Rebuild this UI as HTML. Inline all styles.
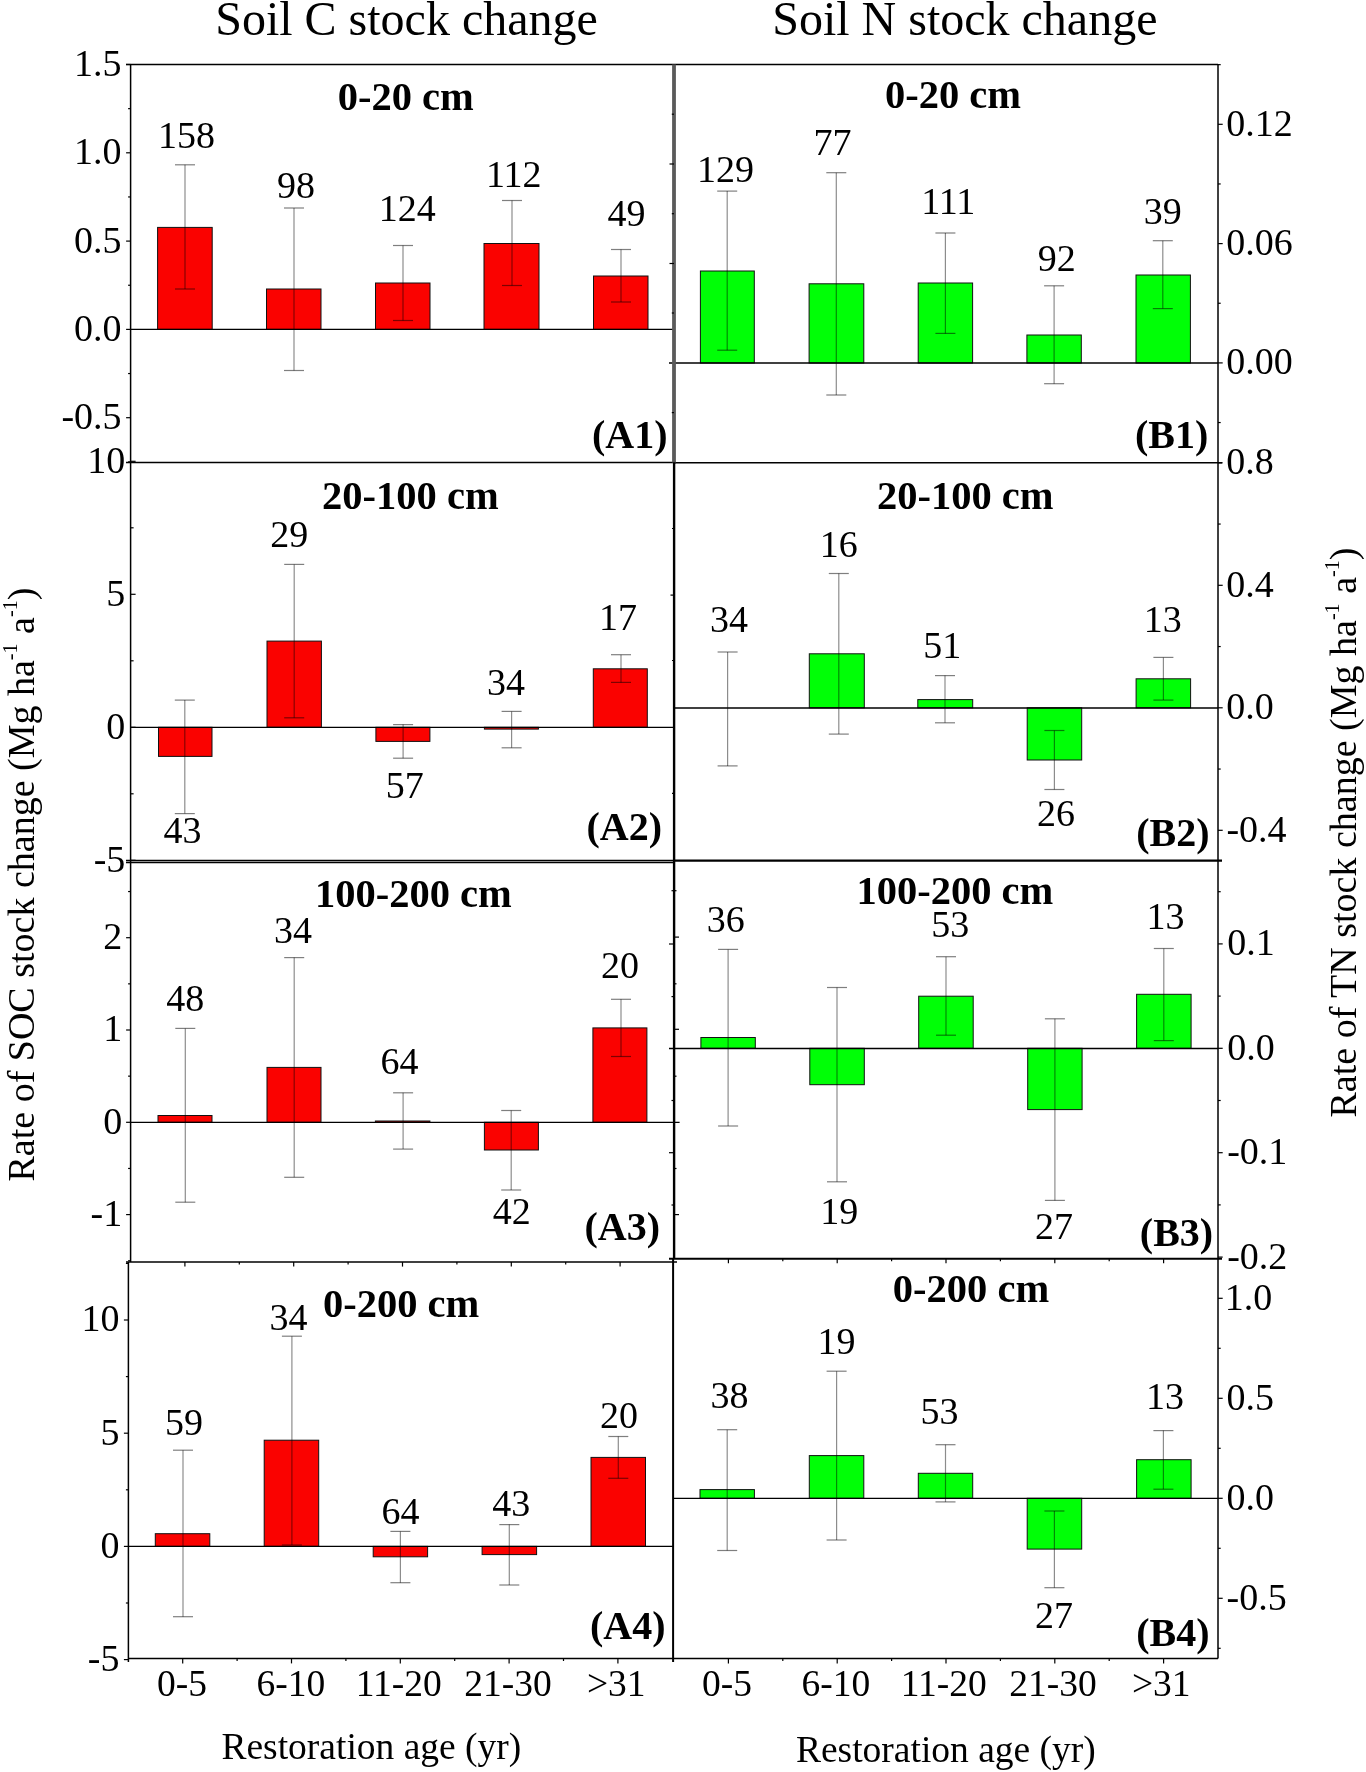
<!DOCTYPE html>
<html><head><meta charset="utf-8"><style>
html,body{margin:0;padding:0;background:#fff;}
svg{display:block;will-change:transform;}
text{font-family:"Liberation Serif",serif;fill:#000;}
</style></head><body>
<svg width="1366" height="1772" viewBox="0 0 1366 1772">
<rect x="0" y="0" width="1366" height="1772" fill="#fff"/>
<rect x="157.6" y="227.4" width="54.6" height="102.0" fill="#fa0200" stroke="#111" stroke-width="1"/>
<rect x="266.5" y="289.0" width="54.5" height="40.4" fill="#fa0200" stroke="#111" stroke-width="1"/>
<rect x="375.5" y="283.0" width="54.5" height="46.4" fill="#fa0200" stroke="#111" stroke-width="1"/>
<rect x="484.0" y="243.5" width="55.0" height="85.9" fill="#fa0200" stroke="#111" stroke-width="1"/>
<rect x="593.5" y="276.0" width="54.5" height="53.4" fill="#fa0200" stroke="#111" stroke-width="1"/>
<line x1="185" y1="164.8" x2="185" y2="289" stroke="#000" stroke-width="1.2" stroke-opacity="0.45"/>
<line x1="175" y1="164.8" x2="195" y2="164.8" stroke="#000" stroke-width="1.2" stroke-opacity="0.5"/>
<line x1="175" y1="289" x2="195" y2="289" stroke="#000" stroke-width="1.2" stroke-opacity="0.5"/>
<line x1="294" y1="208" x2="294" y2="370.5" stroke="#000" stroke-width="1.2" stroke-opacity="0.45"/>
<line x1="284" y1="208" x2="304" y2="208" stroke="#000" stroke-width="1.2" stroke-opacity="0.5"/>
<line x1="284" y1="370.5" x2="304" y2="370.5" stroke="#000" stroke-width="1.2" stroke-opacity="0.5"/>
<line x1="403" y1="245.5" x2="403" y2="320.5" stroke="#000" stroke-width="1.2" stroke-opacity="0.45"/>
<line x1="393" y1="245.5" x2="413" y2="245.5" stroke="#000" stroke-width="1.2" stroke-opacity="0.5"/>
<line x1="393" y1="320.5" x2="413" y2="320.5" stroke="#000" stroke-width="1.2" stroke-opacity="0.5"/>
<line x1="512" y1="200.5" x2="512" y2="285.5" stroke="#000" stroke-width="1.2" stroke-opacity="0.45"/>
<line x1="502" y1="200.5" x2="522" y2="200.5" stroke="#000" stroke-width="1.2" stroke-opacity="0.5"/>
<line x1="502" y1="285.5" x2="522" y2="285.5" stroke="#000" stroke-width="1.2" stroke-opacity="0.5"/>
<line x1="621" y1="249.5" x2="621" y2="302" stroke="#000" stroke-width="1.2" stroke-opacity="0.45"/>
<line x1="611" y1="249.5" x2="631" y2="249.5" stroke="#000" stroke-width="1.2" stroke-opacity="0.5"/>
<line x1="611" y1="302" x2="631" y2="302" stroke="#000" stroke-width="1.2" stroke-opacity="0.5"/>
<text x="158.05" y="147.80" font-size="38" font-weight="normal">158</text>
<text x="277.11" y="197.50" font-size="38" font-weight="normal">98</text>
<text x="378.63" y="220.50" font-size="38" font-weight="normal">124</text>
<text x="485.88" y="186.50" font-size="38" font-weight="normal">112</text>
<text x="607.41" y="226.00" font-size="38" font-weight="normal">49</text>
<rect x="158.5" y="727.3" width="53.5" height="29.1" fill="#fa0200" stroke="#111" stroke-width="1"/>
<rect x="267.0" y="641.1" width="54.4" height="86.2" fill="#fa0200" stroke="#111" stroke-width="1"/>
<rect x="375.9" y="727.3" width="54.0" height="14.1" fill="#fa0200" stroke="#111" stroke-width="1"/>
<rect x="484.4" y="727.3" width="54.0" height="1.8" fill="#fa0200" stroke="#111" stroke-width="1"/>
<rect x="593.3" y="668.8" width="54.0" height="58.5" fill="#fa0200" stroke="#111" stroke-width="1"/>
<line x1="184.8" y1="700.1" x2="184.8" y2="813.6" stroke="#000" stroke-width="1.2" stroke-opacity="0.45"/>
<line x1="174.8" y1="700.1" x2="194.8" y2="700.1" stroke="#000" stroke-width="1.2" stroke-opacity="0.5"/>
<line x1="174.8" y1="813.6" x2="194.8" y2="813.6" stroke="#000" stroke-width="1.2" stroke-opacity="0.5"/>
<line x1="294.2" y1="564.4" x2="294.2" y2="717.8" stroke="#000" stroke-width="1.2" stroke-opacity="0.45"/>
<line x1="284.2" y1="564.4" x2="304.2" y2="564.4" stroke="#000" stroke-width="1.2" stroke-opacity="0.5"/>
<line x1="284.2" y1="717.8" x2="304.2" y2="717.8" stroke="#000" stroke-width="1.2" stroke-opacity="0.5"/>
<line x1="403.1" y1="724.6" x2="403.1" y2="758.2" stroke="#000" stroke-width="1.2" stroke-opacity="0.45"/>
<line x1="393.1" y1="724.6" x2="413.1" y2="724.6" stroke="#000" stroke-width="1.2" stroke-opacity="0.5"/>
<line x1="393.1" y1="758.2" x2="413.1" y2="758.2" stroke="#000" stroke-width="1.2" stroke-opacity="0.5"/>
<line x1="511.6" y1="711.4" x2="511.6" y2="747.8" stroke="#000" stroke-width="1.2" stroke-opacity="0.45"/>
<line x1="501.6" y1="711.4" x2="521.6" y2="711.4" stroke="#000" stroke-width="1.2" stroke-opacity="0.5"/>
<line x1="501.6" y1="747.8" x2="521.6" y2="747.8" stroke="#000" stroke-width="1.2" stroke-opacity="0.5"/>
<line x1="621" y1="654.7" x2="621" y2="682.4" stroke="#000" stroke-width="1.2" stroke-opacity="0.45"/>
<line x1="611" y1="654.7" x2="631" y2="654.7" stroke="#000" stroke-width="1.2" stroke-opacity="0.5"/>
<line x1="611" y1="682.4" x2="631" y2="682.4" stroke="#000" stroke-width="1.2" stroke-opacity="0.5"/>
<text x="270.14" y="547.10" font-size="38" font-weight="normal">29</text>
<text x="598.88" y="629.70" font-size="38" font-weight="normal">17</text>
<text x="486.89" y="694.60" font-size="38" font-weight="normal">34</text>
<text x="385.84" y="797.70" font-size="38" font-weight="normal">57</text>
<text x="163.47" y="843.10" font-size="38" font-weight="normal">43</text>
<rect x="158.0" y="1115.5" width="54.0" height="6.8" fill="#fa0200" stroke="#111" stroke-width="1"/>
<rect x="267.0" y="1067.4" width="54.0" height="54.9" fill="#fa0200" stroke="#111" stroke-width="1"/>
<rect x="375.4" y="1121.0" width="54.5" height="1.3" fill="#fa0200" stroke="#111" stroke-width="1"/>
<rect x="484.4" y="1122.3" width="54.0" height="27.7" fill="#fa0200" stroke="#111" stroke-width="1"/>
<rect x="592.9" y="1027.9" width="54.0" height="94.4" fill="#fa0200" stroke="#111" stroke-width="1"/>
<line x1="185.3" y1="1028.4" x2="185.3" y2="1202.2" stroke="#000" stroke-width="1.2" stroke-opacity="0.45"/>
<line x1="175.3" y1="1028.4" x2="195.3" y2="1028.4" stroke="#000" stroke-width="1.2" stroke-opacity="0.5"/>
<line x1="175.3" y1="1202.2" x2="195.3" y2="1202.2" stroke="#000" stroke-width="1.2" stroke-opacity="0.5"/>
<line x1="294.2" y1="957.6" x2="294.2" y2="1177.3" stroke="#000" stroke-width="1.2" stroke-opacity="0.45"/>
<line x1="284.2" y1="957.6" x2="304.2" y2="957.6" stroke="#000" stroke-width="1.2" stroke-opacity="0.5"/>
<line x1="284.2" y1="1177.3" x2="304.2" y2="1177.3" stroke="#000" stroke-width="1.2" stroke-opacity="0.5"/>
<line x1="403.1" y1="1092.8" x2="403.1" y2="1149.1" stroke="#000" stroke-width="1.2" stroke-opacity="0.45"/>
<line x1="393.1" y1="1092.8" x2="413.1" y2="1092.8" stroke="#000" stroke-width="1.2" stroke-opacity="0.5"/>
<line x1="393.1" y1="1149.1" x2="413.1" y2="1149.1" stroke="#000" stroke-width="1.2" stroke-opacity="0.5"/>
<line x1="511.2" y1="1110.5" x2="511.2" y2="1190" stroke="#000" stroke-width="1.2" stroke-opacity="0.45"/>
<line x1="501.2" y1="1110.5" x2="521.2" y2="1110.5" stroke="#000" stroke-width="1.2" stroke-opacity="0.5"/>
<line x1="501.2" y1="1190" x2="521.2" y2="1190" stroke="#000" stroke-width="1.2" stroke-opacity="0.5"/>
<line x1="621" y1="999.3" x2="621" y2="1056.5" stroke="#000" stroke-width="1.2" stroke-opacity="0.45"/>
<line x1="611" y1="999.3" x2="631" y2="999.3" stroke="#000" stroke-width="1.2" stroke-opacity="0.5"/>
<line x1="611" y1="1056.5" x2="631" y2="1056.5" stroke="#000" stroke-width="1.2" stroke-opacity="0.5"/>
<text x="166.25" y="1011.10" font-size="38" font-weight="normal">48</text>
<text x="273.89" y="943.00" font-size="38" font-weight="normal">34</text>
<text x="380.48" y="1074.20" font-size="38" font-weight="normal">64</text>
<text x="492.68" y="1223.50" font-size="38" font-weight="normal">42</text>
<text x="600.99" y="978.40" font-size="38" font-weight="normal">20</text>
<rect x="155.3" y="1533.7" width="54.5" height="12.7" fill="#fa0200" stroke="#111" stroke-width="1"/>
<rect x="264.2" y="1440.2" width="54.5" height="106.2" fill="#fa0200" stroke="#111" stroke-width="1"/>
<rect x="373.2" y="1546.4" width="54.4" height="10.4" fill="#fa0200" stroke="#111" stroke-width="1"/>
<rect x="482.1" y="1546.4" width="54.5" height="8.2" fill="#fa0200" stroke="#111" stroke-width="1"/>
<rect x="591.0" y="1457.4" width="54.5" height="89.0" fill="#fa0200" stroke="#111" stroke-width="1"/>
<line x1="183" y1="1450.2" x2="183" y2="1616.7" stroke="#000" stroke-width="1.2" stroke-opacity="0.45"/>
<line x1="173" y1="1450.2" x2="193" y2="1450.2" stroke="#000" stroke-width="1.2" stroke-opacity="0.5"/>
<line x1="173" y1="1616.7" x2="193" y2="1616.7" stroke="#000" stroke-width="1.2" stroke-opacity="0.5"/>
<line x1="291.9" y1="1336.2" x2="291.9" y2="1545" stroke="#000" stroke-width="1.2" stroke-opacity="0.45"/>
<line x1="281.9" y1="1336.2" x2="301.9" y2="1336.2" stroke="#000" stroke-width="1.2" stroke-opacity="0.5"/>
<line x1="281.9" y1="1545" x2="301.9" y2="1545" stroke="#000" stroke-width="1.2" stroke-opacity="0.5"/>
<line x1="400.4" y1="1531.4" x2="400.4" y2="1582.7" stroke="#000" stroke-width="1.2" stroke-opacity="0.45"/>
<line x1="390.4" y1="1531.4" x2="410.4" y2="1531.4" stroke="#000" stroke-width="1.2" stroke-opacity="0.5"/>
<line x1="390.4" y1="1582.7" x2="410.4" y2="1582.7" stroke="#000" stroke-width="1.2" stroke-opacity="0.5"/>
<line x1="509.3" y1="1524.6" x2="509.3" y2="1585" stroke="#000" stroke-width="1.2" stroke-opacity="0.45"/>
<line x1="499.3" y1="1524.6" x2="519.3" y2="1524.6" stroke="#000" stroke-width="1.2" stroke-opacity="0.5"/>
<line x1="499.3" y1="1585" x2="519.3" y2="1585" stroke="#000" stroke-width="1.2" stroke-opacity="0.5"/>
<line x1="618.3" y1="1436.5" x2="618.3" y2="1478.3" stroke="#000" stroke-width="1.2" stroke-opacity="0.45"/>
<line x1="608.3" y1="1436.5" x2="628.3" y2="1436.5" stroke="#000" stroke-width="1.2" stroke-opacity="0.5"/>
<line x1="608.3" y1="1478.3" x2="628.3" y2="1478.3" stroke="#000" stroke-width="1.2" stroke-opacity="0.5"/>
<text x="165.08" y="1435.20" font-size="38" font-weight="normal">59</text>
<text x="269.59" y="1329.90" font-size="38" font-weight="normal">34</text>
<text x="381.38" y="1523.70" font-size="38" font-weight="normal">64</text>
<text x="492.37" y="1516.40" font-size="38" font-weight="normal">43</text>
<text x="600.09" y="1428.40" font-size="38" font-weight="normal">20</text>
<rect x="700.4" y="271.0" width="53.9" height="92.0" fill="#00ff06" stroke="#111" stroke-width="1"/>
<rect x="809.1" y="283.8" width="54.7" height="79.2" fill="#00ff06" stroke="#111" stroke-width="1"/>
<rect x="918.2" y="283.0" width="54.4" height="80.0" fill="#00ff06" stroke="#111" stroke-width="1"/>
<rect x="1026.9" y="335.0" width="54.4" height="28.0" fill="#00ff06" stroke="#111" stroke-width="1"/>
<rect x="1136.0" y="275.0" width="54.4" height="88.0" fill="#00ff06" stroke="#111" stroke-width="1"/>
<line x1="727.2" y1="191.1" x2="727.2" y2="350.2" stroke="#000" stroke-width="1.2" stroke-opacity="0.45"/>
<line x1="717.2" y1="191.1" x2="737.2" y2="191.1" stroke="#000" stroke-width="1.2" stroke-opacity="0.5"/>
<line x1="717.2" y1="350.2" x2="737.2" y2="350.2" stroke="#000" stroke-width="1.2" stroke-opacity="0.5"/>
<line x1="836.3" y1="172.7" x2="836.3" y2="395" stroke="#000" stroke-width="1.2" stroke-opacity="0.45"/>
<line x1="826.3" y1="172.7" x2="846.3" y2="172.7" stroke="#000" stroke-width="1.2" stroke-opacity="0.5"/>
<line x1="826.3" y1="395" x2="846.3" y2="395" stroke="#000" stroke-width="1.2" stroke-opacity="0.5"/>
<line x1="945.4" y1="233" x2="945.4" y2="333.4" stroke="#000" stroke-width="1.2" stroke-opacity="0.45"/>
<line x1="935.4" y1="233" x2="955.4" y2="233" stroke="#000" stroke-width="1.2" stroke-opacity="0.5"/>
<line x1="935.4" y1="333.4" x2="955.4" y2="333.4" stroke="#000" stroke-width="1.2" stroke-opacity="0.5"/>
<line x1="1054.1" y1="285.8" x2="1054.1" y2="383.7" stroke="#000" stroke-width="1.2" stroke-opacity="0.45"/>
<line x1="1044.1" y1="285.8" x2="1064.1" y2="285.8" stroke="#000" stroke-width="1.2" stroke-opacity="0.5"/>
<line x1="1044.1" y1="383.7" x2="1064.1" y2="383.7" stroke="#000" stroke-width="1.2" stroke-opacity="0.5"/>
<line x1="1162.8" y1="240.7" x2="1162.8" y2="308.6" stroke="#000" stroke-width="1.2" stroke-opacity="0.45"/>
<line x1="1152.8" y1="240.7" x2="1172.8" y2="240.7" stroke="#000" stroke-width="1.2" stroke-opacity="0.5"/>
<line x1="1152.8" y1="308.6" x2="1172.8" y2="308.6" stroke="#000" stroke-width="1.2" stroke-opacity="0.5"/>
<text x="697.01" y="181.90" font-size="38" font-weight="normal">129</text>
<text x="813.59" y="154.80" font-size="38" font-weight="normal">77</text>
<text x="921.17" y="214.30" font-size="38" font-weight="normal">111</text>
<text x="1037.74" y="271.00" font-size="38" font-weight="normal">92</text>
<text x="1143.87" y="223.90" font-size="38" font-weight="normal">39</text>
<rect x="700.4" y="707.8" width="54.9" height="0.0" fill="#00ff06" stroke="#111" stroke-width="1"/>
<rect x="809.3" y="653.8" width="55.0" height="54.0" fill="#00ff06" stroke="#111" stroke-width="1"/>
<rect x="917.8" y="699.6" width="54.9" height="8.2" fill="#00ff06" stroke="#111" stroke-width="1"/>
<rect x="1027.2" y="707.8" width="54.5" height="52.2" fill="#00ff06" stroke="#111" stroke-width="1"/>
<rect x="1136.1" y="678.8" width="54.5" height="29.0" fill="#00ff06" stroke="#111" stroke-width="1"/>
<line x1="727.6" y1="652" x2="727.6" y2="765.9" stroke="#000" stroke-width="1.2" stroke-opacity="0.45"/>
<line x1="717.6" y1="652" x2="737.6" y2="652" stroke="#000" stroke-width="1.2" stroke-opacity="0.5"/>
<line x1="717.6" y1="765.9" x2="737.6" y2="765.9" stroke="#000" stroke-width="1.2" stroke-opacity="0.5"/>
<line x1="838.8" y1="573.5" x2="838.8" y2="734.1" stroke="#000" stroke-width="1.2" stroke-opacity="0.45"/>
<line x1="828.8" y1="573.5" x2="848.8" y2="573.5" stroke="#000" stroke-width="1.2" stroke-opacity="0.5"/>
<line x1="828.8" y1="734.1" x2="848.8" y2="734.1" stroke="#000" stroke-width="1.2" stroke-opacity="0.5"/>
<line x1="945" y1="675.6" x2="945" y2="722.8" stroke="#000" stroke-width="1.2" stroke-opacity="0.45"/>
<line x1="935" y1="675.6" x2="955" y2="675.6" stroke="#000" stroke-width="1.2" stroke-opacity="0.5"/>
<line x1="935" y1="722.8" x2="955" y2="722.8" stroke="#000" stroke-width="1.2" stroke-opacity="0.5"/>
<line x1="1054.4" y1="730.5" x2="1054.4" y2="789.5" stroke="#000" stroke-width="1.2" stroke-opacity="0.45"/>
<line x1="1044.4" y1="730.5" x2="1064.4" y2="730.5" stroke="#000" stroke-width="1.2" stroke-opacity="0.5"/>
<line x1="1044.4" y1="789.5" x2="1064.4" y2="789.5" stroke="#000" stroke-width="1.2" stroke-opacity="0.5"/>
<line x1="1163.4" y1="657.4" x2="1163.4" y2="700.1" stroke="#000" stroke-width="1.2" stroke-opacity="0.45"/>
<line x1="1153.4" y1="657.4" x2="1173.4" y2="657.4" stroke="#000" stroke-width="1.2" stroke-opacity="0.5"/>
<line x1="1153.4" y1="700.1" x2="1173.4" y2="700.1" stroke="#000" stroke-width="1.2" stroke-opacity="0.5"/>
<text x="710.09" y="632.00" font-size="38" font-weight="normal">34</text>
<text x="819.70" y="557.10" font-size="38" font-weight="normal">16</text>
<text x="923.34" y="657.90" font-size="38" font-weight="normal">51</text>
<text x="1036.93" y="826.30" font-size="38" font-weight="normal">26</text>
<text x="1143.87" y="632.00" font-size="38" font-weight="normal">13</text>
<rect x="700.9" y="1037.5" width="54.4" height="10.8" fill="#00ff06" stroke="#111" stroke-width="1"/>
<rect x="809.8" y="1048.3" width="54.5" height="36.4" fill="#00ff06" stroke="#111" stroke-width="1"/>
<rect x="918.7" y="996.2" width="54.5" height="52.1" fill="#00ff06" stroke="#111" stroke-width="1"/>
<rect x="1027.7" y="1048.3" width="54.4" height="61.3" fill="#00ff06" stroke="#111" stroke-width="1"/>
<rect x="1136.6" y="994.3" width="54.5" height="54.0" fill="#00ff06" stroke="#111" stroke-width="1"/>
<line x1="728.1" y1="949.4" x2="728.1" y2="1126" stroke="#000" stroke-width="1.2" stroke-opacity="0.45"/>
<line x1="718.1" y1="949.4" x2="738.1" y2="949.4" stroke="#000" stroke-width="1.2" stroke-opacity="0.5"/>
<line x1="718.1" y1="1126" x2="738.1" y2="1126" stroke="#000" stroke-width="1.2" stroke-opacity="0.5"/>
<line x1="837" y1="987.5" x2="837" y2="1181.8" stroke="#000" stroke-width="1.2" stroke-opacity="0.45"/>
<line x1="827" y1="987.5" x2="847" y2="987.5" stroke="#000" stroke-width="1.2" stroke-opacity="0.5"/>
<line x1="827" y1="1181.8" x2="847" y2="1181.8" stroke="#000" stroke-width="1.2" stroke-opacity="0.5"/>
<line x1="946" y1="956.7" x2="946" y2="1035.2" stroke="#000" stroke-width="1.2" stroke-opacity="0.45"/>
<line x1="936" y1="956.7" x2="956" y2="956.7" stroke="#000" stroke-width="1.2" stroke-opacity="0.5"/>
<line x1="936" y1="1035.2" x2="956" y2="1035.2" stroke="#000" stroke-width="1.2" stroke-opacity="0.5"/>
<line x1="1054.9" y1="1018.8" x2="1054.9" y2="1200.4" stroke="#000" stroke-width="1.2" stroke-opacity="0.45"/>
<line x1="1044.9" y1="1018.8" x2="1064.9" y2="1018.8" stroke="#000" stroke-width="1.2" stroke-opacity="0.5"/>
<line x1="1044.9" y1="1200.4" x2="1064.9" y2="1200.4" stroke="#000" stroke-width="1.2" stroke-opacity="0.5"/>
<line x1="1163.8" y1="948.5" x2="1163.8" y2="1040.6" stroke="#000" stroke-width="1.2" stroke-opacity="0.45"/>
<line x1="1153.8" y1="948.5" x2="1173.8" y2="948.5" stroke="#000" stroke-width="1.2" stroke-opacity="0.5"/>
<line x1="1153.8" y1="1040.6" x2="1173.8" y2="1040.6" stroke="#000" stroke-width="1.2" stroke-opacity="0.5"/>
<text x="706.76" y="931.70" font-size="38" font-weight="normal">36</text>
<text x="820.31" y="1223.50" font-size="38" font-weight="normal">19</text>
<text x="931.14" y="937.10" font-size="38" font-weight="normal">53</text>
<text x="1034.91" y="1239.00" font-size="38" font-weight="normal">27</text>
<text x="1146.57" y="928.50" font-size="38" font-weight="normal">13</text>
<rect x="700.0" y="1489.6" width="54.4" height="8.7" fill="#00ff06" stroke="#111" stroke-width="1"/>
<rect x="809.3" y="1455.6" width="54.5" height="42.7" fill="#00ff06" stroke="#111" stroke-width="1"/>
<rect x="918.3" y="1473.3" width="54.4" height="25.0" fill="#00ff06" stroke="#111" stroke-width="1"/>
<rect x="1027.2" y="1498.3" width="54.5" height="50.8" fill="#00ff06" stroke="#111" stroke-width="1"/>
<rect x="1136.6" y="1459.7" width="54.5" height="38.6" fill="#00ff06" stroke="#111" stroke-width="1"/>
<line x1="727.2" y1="1429.7" x2="727.2" y2="1550.5" stroke="#000" stroke-width="1.2" stroke-opacity="0.45"/>
<line x1="717.2" y1="1429.7" x2="737.2" y2="1429.7" stroke="#000" stroke-width="1.2" stroke-opacity="0.5"/>
<line x1="717.2" y1="1550.5" x2="737.2" y2="1550.5" stroke="#000" stroke-width="1.2" stroke-opacity="0.5"/>
<line x1="836.6" y1="1371.2" x2="836.6" y2="1540" stroke="#000" stroke-width="1.2" stroke-opacity="0.45"/>
<line x1="826.6" y1="1371.2" x2="846.6" y2="1371.2" stroke="#000" stroke-width="1.2" stroke-opacity="0.5"/>
<line x1="826.6" y1="1540" x2="846.6" y2="1540" stroke="#000" stroke-width="1.2" stroke-opacity="0.5"/>
<line x1="945.5" y1="1444.7" x2="945.5" y2="1501.9" stroke="#000" stroke-width="1.2" stroke-opacity="0.45"/>
<line x1="935.5" y1="1444.7" x2="955.5" y2="1444.7" stroke="#000" stroke-width="1.2" stroke-opacity="0.5"/>
<line x1="935.5" y1="1501.9" x2="955.5" y2="1501.9" stroke="#000" stroke-width="1.2" stroke-opacity="0.5"/>
<line x1="1054.4" y1="1511" x2="1054.4" y2="1587.7" stroke="#000" stroke-width="1.2" stroke-opacity="0.45"/>
<line x1="1044.4" y1="1511" x2="1064.4" y2="1511" stroke="#000" stroke-width="1.2" stroke-opacity="0.5"/>
<line x1="1044.4" y1="1587.7" x2="1064.4" y2="1587.7" stroke="#000" stroke-width="1.2" stroke-opacity="0.5"/>
<line x1="1163.4" y1="1430.6" x2="1163.4" y2="1489.2" stroke="#000" stroke-width="1.2" stroke-opacity="0.45"/>
<line x1="1153.4" y1="1430.6" x2="1173.4" y2="1430.6" stroke="#000" stroke-width="1.2" stroke-opacity="0.5"/>
<line x1="1153.4" y1="1489.2" x2="1173.4" y2="1489.2" stroke="#000" stroke-width="1.2" stroke-opacity="0.5"/>
<text x="710.51" y="1408.00" font-size="38" font-weight="normal">38</text>
<text x="817.61" y="1354.40" font-size="38" font-weight="normal">19</text>
<text x="920.44" y="1423.80" font-size="38" font-weight="normal">53</text>
<text x="1034.91" y="1628.10" font-size="38" font-weight="normal">27</text>
<text x="1146.07" y="1408.90" font-size="38" font-weight="normal">13</text>
<line x1="130.5" y1="329.4" x2="674" y2="329.4" stroke="#000" stroke-width="1.3"/>
<line x1="669" y1="363.0" x2="1218" y2="363.0" stroke="#000" stroke-width="1.3"/>
<line x1="130.5" y1="727.3" x2="674" y2="727.3" stroke="#000" stroke-width="1.3"/>
<line x1="674" y1="708.0" x2="1218" y2="708.0" stroke="#000" stroke-width="1.3"/>
<line x1="130.5" y1="1122.3" x2="679.6" y2="1122.3" stroke="#000" stroke-width="1.3"/>
<line x1="669" y1="1048.5" x2="1218" y2="1048.5" stroke="#000" stroke-width="1.3"/>
<line x1="128.2" y1="1546.4" x2="673" y2="1546.4" stroke="#000" stroke-width="1.3"/>
<line x1="674" y1="1498.3" x2="1218" y2="1498.3" stroke="#000" stroke-width="1.3"/>
<line x1="126" y1="64.4" x2="1218" y2="64.6" stroke="#000" stroke-width="1.5"/>
<line x1="126" y1="462.5" x2="676" y2="462.5" stroke="#000" stroke-width="1.5"/>
<line x1="674" y1="462.8" x2="1222" y2="462.8" stroke="#000" stroke-width="1.5"/>
<line x1="126" y1="860.4" x2="674" y2="860.4" stroke="#000" stroke-width="1.5"/>
<line x1="126" y1="862.4" x2="674" y2="862.4" stroke="#000" stroke-width="1.5"/>
<line x1="674" y1="860.6" x2="1222" y2="860.6" stroke="#000" stroke-width="2.2"/>
<line x1="126" y1="1262.1" x2="677" y2="1262.1" stroke="#000" stroke-width="1.5"/>
<line x1="669" y1="1258.7" x2="1222" y2="1258.7" stroke="#000" stroke-width="2.0"/>
<line x1="128.2" y1="1658.4" x2="1218" y2="1658.4" stroke="#000" stroke-width="1.5"/>
<line x1="130.6" y1="64.4" x2="130.6" y2="1262.1" stroke="#000" stroke-width="1.5"/>
<line x1="128.4" y1="1262.1" x2="128.4" y2="1662" stroke="#000" stroke-width="1.5"/>
<line x1="674" y1="64.4" x2="674" y2="462.5" stroke="#5a5a5a" stroke-width="3.8"/>
<line x1="674.1" y1="462.5" x2="674.1" y2="1258.7" stroke="#000" stroke-width="2.4"/>
<line x1="673.1" y1="1258.7" x2="673.1" y2="1662" stroke="#000" stroke-width="2.0"/>
<line x1="1218" y1="64.6" x2="1218" y2="1658.4" stroke="#000" stroke-width="1.5"/>
<line x1="126.1" y1="64.5" x2="130.6" y2="64.5" stroke="#000" stroke-width="1.2"/>
<line x1="126.1" y1="152.79999999999998" x2="130.6" y2="152.79999999999998" stroke="#000" stroke-width="1.2"/>
<line x1="126.1" y1="241.09999999999997" x2="130.6" y2="241.09999999999997" stroke="#000" stroke-width="1.2"/>
<line x1="126.1" y1="329.4" x2="130.6" y2="329.4" stroke="#000" stroke-width="1.2"/>
<line x1="126.1" y1="417.7" x2="130.6" y2="417.7" stroke="#000" stroke-width="1.2"/>
<line x1="128.1" y1="108.64999999999998" x2="130.6" y2="108.64999999999998" stroke="#000" stroke-width="1.2"/>
<line x1="128.1" y1="196.95" x2="130.6" y2="196.95" stroke="#000" stroke-width="1.2"/>
<line x1="128.1" y1="285.25" x2="130.6" y2="285.25" stroke="#000" stroke-width="1.2"/>
<line x1="128.1" y1="373.54999999999995" x2="130.6" y2="373.54999999999995" stroke="#000" stroke-width="1.2"/>
<line x1="128.1" y1="461.84999999999997" x2="130.6" y2="461.84999999999997" stroke="#000" stroke-width="1.2"/>
<line x1="130.6" y1="461.29999999999995" x2="135.6" y2="461.29999999999995" stroke="#000" stroke-width="1.2"/>
<line x1="130.6" y1="594.3" x2="135.6" y2="594.3" stroke="#000" stroke-width="1.2"/>
<line x1="130.6" y1="727.3" x2="135.6" y2="727.3" stroke="#000" stroke-width="1.2"/>
<line x1="130.6" y1="860.3" x2="135.6" y2="860.3" stroke="#000" stroke-width="1.2"/>
<line x1="130.6" y1="527.8" x2="133.6" y2="527.8" stroke="#000" stroke-width="1.2"/>
<line x1="130.6" y1="660.8" x2="133.6" y2="660.8" stroke="#000" stroke-width="1.2"/>
<line x1="130.6" y1="793.8" x2="133.6" y2="793.8" stroke="#000" stroke-width="1.2"/>
<line x1="126.1" y1="937.6999999999999" x2="130.6" y2="937.6999999999999" stroke="#000" stroke-width="1.2"/>
<line x1="126.1" y1="1030.0" x2="130.6" y2="1030.0" stroke="#000" stroke-width="1.2"/>
<line x1="126.1" y1="1122.3" x2="130.6" y2="1122.3" stroke="#000" stroke-width="1.2"/>
<line x1="126.1" y1="1214.6" x2="130.6" y2="1214.6" stroke="#000" stroke-width="1.2"/>
<line x1="128.1" y1="891.55" x2="130.6" y2="891.55" stroke="#000" stroke-width="1.2"/>
<line x1="128.1" y1="983.8499999999999" x2="130.6" y2="983.8499999999999" stroke="#000" stroke-width="1.2"/>
<line x1="128.1" y1="1076.1499999999999" x2="130.6" y2="1076.1499999999999" stroke="#000" stroke-width="1.2"/>
<line x1="128.1" y1="1168.45" x2="130.6" y2="1168.45" stroke="#000" stroke-width="1.2"/>
<line x1="128.1" y1="1260.75" x2="130.6" y2="1260.75" stroke="#000" stroke-width="1.2"/>
<line x1="123.9" y1="1320.0" x2="128.4" y2="1320.0" stroke="#000" stroke-width="1.2"/>
<line x1="123.9" y1="1433.2" x2="128.4" y2="1433.2" stroke="#000" stroke-width="1.2"/>
<line x1="123.9" y1="1546.4" x2="128.4" y2="1546.4" stroke="#000" stroke-width="1.2"/>
<line x1="123.9" y1="1659.6000000000001" x2="128.4" y2="1659.6000000000001" stroke="#000" stroke-width="1.2"/>
<line x1="125.9" y1="1263.4" x2="128.4" y2="1263.4" stroke="#000" stroke-width="1.2"/>
<line x1="125.9" y1="1376.6000000000001" x2="128.4" y2="1376.6000000000001" stroke="#000" stroke-width="1.2"/>
<line x1="125.9" y1="1489.8000000000002" x2="128.4" y2="1489.8000000000002" stroke="#000" stroke-width="1.2"/>
<line x1="125.9" y1="1603.0" x2="128.4" y2="1603.0" stroke="#000" stroke-width="1.2"/>
<line x1="1218" y1="124.304" x2="1222.7" y2="124.304" stroke="#000" stroke-width="1.2"/>
<line x1="1218" y1="243.60199999999998" x2="1222.7" y2="243.60199999999998" stroke="#000" stroke-width="1.2"/>
<line x1="1218" y1="362.9" x2="1222.7" y2="362.9" stroke="#000" stroke-width="1.2"/>
<line x1="1218" y1="64.65499999999997" x2="1220.7" y2="64.65499999999997" stroke="#000" stroke-width="1.2"/>
<line x1="1218" y1="183.95299999999997" x2="1220.7" y2="183.95299999999997" stroke="#000" stroke-width="1.2"/>
<line x1="1218" y1="303.251" x2="1220.7" y2="303.251" stroke="#000" stroke-width="1.2"/>
<line x1="1218" y1="422.549" x2="1220.7" y2="422.549" stroke="#000" stroke-width="1.2"/>
<line x1="1218" y1="462.79999999999995" x2="1222.7" y2="462.79999999999995" stroke="#000" stroke-width="1.2"/>
<line x1="1218" y1="585.3" x2="1222.7" y2="585.3" stroke="#000" stroke-width="1.2"/>
<line x1="1218" y1="707.8" x2="1222.7" y2="707.8" stroke="#000" stroke-width="1.2"/>
<line x1="1218" y1="830.3" x2="1222.7" y2="830.3" stroke="#000" stroke-width="1.2"/>
<line x1="1218" y1="524.05" x2="1220.7" y2="524.05" stroke="#000" stroke-width="1.2"/>
<line x1="1218" y1="646.55" x2="1220.7" y2="646.55" stroke="#000" stroke-width="1.2"/>
<line x1="1218" y1="769.05" x2="1220.7" y2="769.05" stroke="#000" stroke-width="1.2"/>
<line x1="1218" y1="943.9" x2="1222.7" y2="943.9" stroke="#000" stroke-width="1.2"/>
<line x1="1218" y1="1048.3" x2="1222.7" y2="1048.3" stroke="#000" stroke-width="1.2"/>
<line x1="1218" y1="1152.7" x2="1222.7" y2="1152.7" stroke="#000" stroke-width="1.2"/>
<line x1="1218" y1="1257.1" x2="1222.7" y2="1257.1" stroke="#000" stroke-width="1.2"/>
<line x1="1218" y1="891.6999999999999" x2="1220.7" y2="891.6999999999999" stroke="#000" stroke-width="1.2"/>
<line x1="1218" y1="996.0999999999999" x2="1220.7" y2="996.0999999999999" stroke="#000" stroke-width="1.2"/>
<line x1="1218" y1="1100.5" x2="1220.7" y2="1100.5" stroke="#000" stroke-width="1.2"/>
<line x1="1218" y1="1204.8999999999999" x2="1220.7" y2="1204.8999999999999" stroke="#000" stroke-width="1.2"/>
<line x1="1218" y1="1298.3" x2="1222.7" y2="1298.3" stroke="#000" stroke-width="1.2"/>
<line x1="1218" y1="1398.3" x2="1222.7" y2="1398.3" stroke="#000" stroke-width="1.2"/>
<line x1="1218" y1="1498.3" x2="1222.7" y2="1498.3" stroke="#000" stroke-width="1.2"/>
<line x1="1218" y1="1598.3" x2="1222.7" y2="1598.3" stroke="#000" stroke-width="1.2"/>
<line x1="1218" y1="1348.3" x2="1220.7" y2="1348.3" stroke="#000" stroke-width="1.2"/>
<line x1="1218" y1="1448.3" x2="1220.7" y2="1448.3" stroke="#000" stroke-width="1.2"/>
<line x1="1218" y1="1548.3" x2="1220.7" y2="1548.3" stroke="#000" stroke-width="1.2"/>
<line x1="1218" y1="1648.3" x2="1220.7" y2="1648.3" stroke="#000" stroke-width="1.2"/>
<line x1="669.5" y1="164" x2="674" y2="164" stroke="#000" stroke-width="1.2"/>
<line x1="669.5" y1="263.5" x2="674" y2="263.5" stroke="#000" stroke-width="1.2"/>
<line x1="671.8" y1="114.2" x2="674" y2="114.2" stroke="#000" stroke-width="1.2"/>
<line x1="671.8" y1="213.7" x2="674" y2="213.7" stroke="#000" stroke-width="1.2"/>
<line x1="671.8" y1="313" x2="674" y2="313" stroke="#000" stroke-width="1.2"/>
<line x1="671.8" y1="412.6" x2="674" y2="412.6" stroke="#000" stroke-width="1.2"/>
<line x1="670.5" y1="595.1" x2="674" y2="595.1" stroke="#000" stroke-width="1.2"/>
<line x1="672.0" y1="528.5" x2="674" y2="528.5" stroke="#000" stroke-width="1.2"/>
<line x1="672.0" y1="660.5" x2="674" y2="660.5" stroke="#000" stroke-width="1.2"/>
<line x1="672.0" y1="793.4" x2="674" y2="793.4" stroke="#000" stroke-width="1.2"/>
<line x1="674" y1="937.1" x2="679" y2="937.1" stroke="#000" stroke-width="1.2"/>
<line x1="674" y1="1029.3" x2="679" y2="1029.3" stroke="#000" stroke-width="1.2"/>
<line x1="674" y1="1214.6" x2="679" y2="1214.6" stroke="#000" stroke-width="1.2"/>
<line x1="674" y1="890.7" x2="676.5" y2="890.7" stroke="#000" stroke-width="1.2"/>
<line x1="674" y1="983.8" x2="676.5" y2="983.8" stroke="#000" stroke-width="1.2"/>
<line x1="674" y1="1076.2" x2="676.5" y2="1076.2" stroke="#000" stroke-width="1.2"/>
<line x1="674" y1="1168.5" x2="676.5" y2="1168.5" stroke="#000" stroke-width="1.2"/>
<line x1="669" y1="944" x2="674" y2="944" stroke="#000" stroke-width="1.2"/>
<line x1="669" y1="1152.7" x2="674" y2="1152.7" stroke="#000" stroke-width="1.2"/>
<line x1="671.5" y1="890.7" x2="674" y2="890.7" stroke="#000" stroke-width="1.2"/>
<line x1="671.5" y1="996.6" x2="674" y2="996.6" stroke="#000" stroke-width="1.2"/>
<line x1="671.5" y1="1100.5" x2="674" y2="1100.5" stroke="#000" stroke-width="1.2"/>
<line x1="671.5" y1="1205" x2="674" y2="1205" stroke="#000" stroke-width="1.2"/>
<line x1="184.9" y1="1262.1" x2="184.9" y2="1266.6" stroke="#000" stroke-width="1.2"/>
<line x1="293.7" y1="1262.1" x2="293.7" y2="1266.6" stroke="#000" stroke-width="1.2"/>
<line x1="402.5" y1="1262.1" x2="402.5" y2="1266.6" stroke="#000" stroke-width="1.2"/>
<line x1="511.3" y1="1262.1" x2="511.3" y2="1266.6" stroke="#000" stroke-width="1.2"/>
<line x1="620.0999999999999" y1="1262.1" x2="620.0999999999999" y2="1266.6" stroke="#000" stroke-width="1.2"/>
<line x1="239.3" y1="1262.1" x2="239.3" y2="1264.6" stroke="#000" stroke-width="1.2"/>
<line x1="348.1" y1="1262.1" x2="348.1" y2="1264.6" stroke="#000" stroke-width="1.2"/>
<line x1="456.9" y1="1262.1" x2="456.9" y2="1264.6" stroke="#000" stroke-width="1.2"/>
<line x1="565.7" y1="1262.1" x2="565.7" y2="1264.6" stroke="#000" stroke-width="1.2"/>
<line x1="728.4" y1="1258.7" x2="728.4" y2="1263.2" stroke="#000" stroke-width="1.2"/>
<line x1="837.2" y1="1258.7" x2="837.2" y2="1263.2" stroke="#000" stroke-width="1.2"/>
<line x1="946.0" y1="1258.7" x2="946.0" y2="1263.2" stroke="#000" stroke-width="1.2"/>
<line x1="1054.8" y1="1258.7" x2="1054.8" y2="1263.2" stroke="#000" stroke-width="1.2"/>
<line x1="1163.6" y1="1258.7" x2="1163.6" y2="1263.2" stroke="#000" stroke-width="1.2"/>
<line x1="782.8" y1="1258.7" x2="782.8" y2="1261.2" stroke="#000" stroke-width="1.2"/>
<line x1="891.6" y1="1258.7" x2="891.6" y2="1261.2" stroke="#000" stroke-width="1.2"/>
<line x1="1000.4" y1="1258.7" x2="1000.4" y2="1261.2" stroke="#000" stroke-width="1.2"/>
<line x1="1109.2" y1="1258.7" x2="1109.2" y2="1261.2" stroke="#000" stroke-width="1.2"/>
<line x1="182.70000000000002" y1="1658.4" x2="182.70000000000002" y2="1663.4" stroke="#000" stroke-width="1.2"/>
<line x1="291.5" y1="1658.4" x2="291.5" y2="1663.4" stroke="#000" stroke-width="1.2"/>
<line x1="400.3" y1="1658.4" x2="400.3" y2="1663.4" stroke="#000" stroke-width="1.2"/>
<line x1="509.1" y1="1658.4" x2="509.1" y2="1663.4" stroke="#000" stroke-width="1.2"/>
<line x1="617.9" y1="1658.4" x2="617.9" y2="1663.4" stroke="#000" stroke-width="1.2"/>
<line x1="237.10000000000002" y1="1658.4" x2="237.10000000000002" y2="1661.0" stroke="#000" stroke-width="1.2"/>
<line x1="345.9" y1="1658.4" x2="345.9" y2="1661.0" stroke="#000" stroke-width="1.2"/>
<line x1="454.7" y1="1658.4" x2="454.7" y2="1661.0" stroke="#000" stroke-width="1.2"/>
<line x1="563.5" y1="1658.4" x2="563.5" y2="1661.0" stroke="#000" stroke-width="1.2"/>
<line x1="728.4" y1="1658.4" x2="728.4" y2="1663.4" stroke="#000" stroke-width="1.2"/>
<line x1="837.2" y1="1658.4" x2="837.2" y2="1663.4" stroke="#000" stroke-width="1.2"/>
<line x1="946.0" y1="1658.4" x2="946.0" y2="1663.4" stroke="#000" stroke-width="1.2"/>
<line x1="1054.8" y1="1658.4" x2="1054.8" y2="1663.4" stroke="#000" stroke-width="1.2"/>
<line x1="1163.6" y1="1658.4" x2="1163.6" y2="1663.4" stroke="#000" stroke-width="1.2"/>
<line x1="782.8" y1="1658.4" x2="782.8" y2="1661.0" stroke="#000" stroke-width="1.2"/>
<line x1="891.6" y1="1658.4" x2="891.6" y2="1661.0" stroke="#000" stroke-width="1.2"/>
<line x1="1000.4" y1="1658.4" x2="1000.4" y2="1661.0" stroke="#000" stroke-width="1.2"/>
<line x1="1109.2" y1="1658.4" x2="1109.2" y2="1661.0" stroke="#000" stroke-width="1.2"/>
<text x="121.60" y="75.90" font-size="38" text-anchor="end">1.5</text>
<text x="121.60" y="164.20" font-size="38" text-anchor="end">1.0</text>
<text x="121.60" y="252.50" font-size="38" text-anchor="end">0.5</text>
<text x="121.60" y="340.80" font-size="38" text-anchor="end">0.0</text>
<text x="121.60" y="429.10" font-size="38" text-anchor="end">-0.5</text>
<text x="125.30" y="472.70" font-size="38" text-anchor="end">10</text>
<text x="125.30" y="605.70" font-size="38" text-anchor="end">5</text>
<text x="125.30" y="738.70" font-size="38" text-anchor="end">0</text>
<text x="125.30" y="871.70" font-size="38" text-anchor="end">-5</text>
<text x="122.20" y="949.10" font-size="38" text-anchor="end">2</text>
<text x="122.20" y="1041.40" font-size="38" text-anchor="end">1</text>
<text x="122.20" y="1133.70" font-size="38" text-anchor="end">0</text>
<text x="122.20" y="1226.00" font-size="38" text-anchor="end">-1</text>
<text x="119.50" y="1331.40" font-size="38" text-anchor="end">10</text>
<text x="119.50" y="1444.60" font-size="38" text-anchor="end">5</text>
<text x="119.50" y="1557.80" font-size="38" text-anchor="end">0</text>
<text x="119.50" y="1671.00" font-size="38" text-anchor="end">-5</text>
<text x="1226.15" y="135.70" font-size="38" font-weight="normal">0.12</text>
<text x="1226.15" y="255.00" font-size="38" font-weight="normal">0.06</text>
<text x="1226.15" y="374.30" font-size="38" font-weight="normal">0.00</text>
<text x="1226.35" y="474.20" font-size="38" font-weight="normal">0.8</text>
<text x="1226.35" y="596.70" font-size="38" font-weight="normal">0.4</text>
<text x="1226.35" y="719.20" font-size="38" font-weight="normal">0.0</text>
<text x="1226.39" y="841.70" font-size="38" font-weight="normal">-0.4</text>
<text x="1227.15" y="955.30" font-size="38" font-weight="normal">0.1</text>
<text x="1227.15" y="1059.70" font-size="38" font-weight="normal">0.0</text>
<text x="1227.19" y="1164.10" font-size="38" font-weight="normal">-0.1</text>
<text x="1227.19" y="1268.50" font-size="38" font-weight="normal">-0.2</text>
<text x="1224.66" y="1309.70" font-size="38" font-weight="normal">1.0</text>
<text x="1226.55" y="1409.70" font-size="38" font-weight="normal">0.5</text>
<text x="1226.55" y="1509.70" font-size="38" font-weight="normal">0.0</text>
<text x="1226.59" y="1609.70" font-size="38" font-weight="normal">-0.5</text>
<text x="337.74" y="109.80" font-size="40.5" font-weight="bold">0-20 cm</text>
<text x="884.94" y="107.60" font-size="40.5" font-weight="bold">0-20 cm</text>
<text x="322.11" y="509.00" font-size="40.5" font-weight="bold">20-100 cm</text>
<text x="876.91" y="508.60" font-size="40.5" font-weight="bold">20-100 cm</text>
<text x="315.01" y="906.70" font-size="40.5" font-weight="bold">100-200 cm</text>
<text x="856.51" y="903.60" font-size="40.5" font-weight="bold">100-200 cm</text>
<text x="322.91" y="1317.20" font-size="40.5" font-weight="bold">0-200 cm</text>
<text x="892.81" y="1302.20" font-size="40.5" font-weight="bold">0-200 cm</text>
<text x="592.03" y="447.50" font-size="40" font-weight="bold">(A1)</text>
<text x="586.43" y="840.30" font-size="40" font-weight="bold">(A2)</text>
<text x="584.43" y="1239.50" font-size="40" font-weight="bold">(A3)</text>
<text x="590.03" y="1639.10" font-size="40" font-weight="bold">(A4)</text>
<text x="1135.04" y="448.30" font-size="40" font-weight="bold">(B1)</text>
<text x="1136.24" y="846.30" font-size="40" font-weight="bold">(B2)</text>
<text x="1139.84" y="1246.30" font-size="40" font-weight="bold">(B3)</text>
<text x="1136.24" y="1645.90" font-size="40" font-weight="bold">(B4)</text>
<text x="215.19" y="34.50" font-size="48" font-weight="normal">Soil C stock change</text>
<text x="772.19" y="34.50" font-size="48" font-weight="normal">Soil N stock change</text>
<text x="156.92" y="1696.00" font-size="37.5" font-weight="normal">0-5</text>
<text x="256.54" y="1696.00" font-size="37.5" font-weight="normal">6-10</text>
<text x="355.72" y="1696.00" font-size="37.5" font-weight="normal">11-20</text>
<text x="464.15" y="1696.00" font-size="37.5" font-weight="normal">21-30</text>
<text x="586.95" y="1696.00" font-size="37.5" font-weight="normal">&gt;31</text>
<text x="701.92" y="1696.00" font-size="37.5" font-weight="normal">0-5</text>
<text x="801.54" y="1696.00" font-size="37.5" font-weight="normal">6-10</text>
<text x="900.72" y="1696.00" font-size="37.5" font-weight="normal">11-20</text>
<text x="1009.15" y="1696.00" font-size="37.5" font-weight="normal">21-30</text>
<text x="1131.95" y="1696.00" font-size="37.5" font-weight="normal">&gt;31</text>
<text x="221.42" y="1759.30" font-size="37.5" font-weight="normal">Restoration age (yr)</text>
<text x="795.92" y="1762.00" font-size="37.5" font-weight="normal">Restoration age (yr)</text>
<text transform="translate(33.8,1181.5) rotate(-90)" font-size="38">Rate of SOC stock change (Mg ha<tspan font-size="20.1" dy="-17.1">-1</tspan><tspan dy="17.1"> a</tspan><tspan font-size="20.1" dy="-17.1">-1</tspan><tspan dy="17.1">)</tspan></text>
<text transform="translate(1356.2,1117.5) rotate(-90)" font-size="38">Rate of TN stock change (Mg ha<tspan font-size="20.1" dy="-17.1">-1</tspan><tspan dy="17.1"> a</tspan><tspan font-size="20.1" dy="-17.1">-1</tspan><tspan dy="17.1">)</tspan></text>
</svg>
</body></html>
